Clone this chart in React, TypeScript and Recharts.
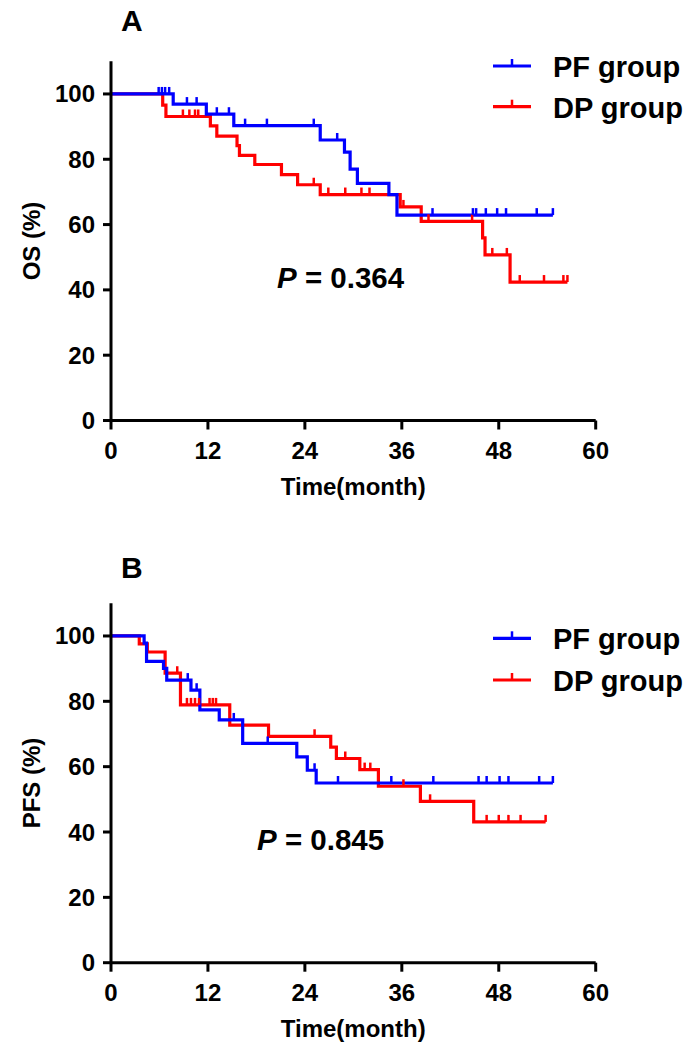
import React from "react";
import { LineChart, Line, XAxis, YAxis } from "recharts";

// Kaplan-Meier steps as [month, survival %]; censor marks as months
const osPfSteps = [
  [0, 100], [7.7, 96.9], [11.8, 93.8], [15.2, 90.3], [25.9, 85.9], [28.9, 82.2],
  [29.6, 77.0], [30.5, 72.6], [34.4, 69.2], [35.4, 62.9],
];
const osPfCensor = [
  5.9, 6.3, 6.7, 7.2, 9.4, 10.6, 13.1, 14.6, 16.6, 19.3, 25.1, 28.0, 39.8, 44.8,
  45.2, 46.4, 47.8, 48.9, 52.7, 54.7,
];
const osDpSteps = [
  [0, 100], [6.4, 96.6], [6.8, 93.1], [12.3, 90.2], [13.1, 87.1], [15.6, 84.2],
  [15.9, 81.2], [17.8, 78.4], [21.1, 75.3], [23.1, 72.2], [25.9, 69.2], [35.8, 65.4],
  [38.4, 61.0], [46.0, 55.9], [46.3, 50.7], [49.4, 42.4],
];
const osDpCensor = [
  8.9, 9.7, 10.4, 10.8, 25.1, 26.9, 29.0, 31.0, 32.0, 36.2, 39.3, 44.7, 47.2, 49.0,
  50.6, 53.6, 56.0, 56.5,
];

const pfsPfSteps = [
  [0, 100], [4.1, 97.8], [4.4, 92.2], [6.5, 90.1], [6.9, 86.5], [9.9, 83.4],
  [11.0, 77.4], [13.4, 74.3], [16.3, 67.1], [23.0, 63.0], [24.3, 58.9], [25.4, 55.0],
];
const pfsPfCensor = [
  9.5, 10.6, 15.2, 19.4, 25.2, 28.1, 34.7, 39.9, 45.5, 46.5, 48.1, 49.2, 53.0, 54.7,
];
const pfsDpSteps = [
  [0, 100], [3.5, 97.6], [4.5, 95.1], [6.7, 88.6], [8.6, 78.9], [14.7, 72.7],
  [19.5, 69.3], [27.2, 66.0], [27.9, 62.5], [30.8, 59.1], [33.1, 54.0], [38.3, 49.4],
  [44.9, 43.1],
];
const pfsDpCensor = [
  8.2, 9.4, 9.9, 10.4, 10.9, 12.2, 12.6, 13.0, 25.2, 29.0, 31.4, 32.1, 36.2, 39.5,
  46.5, 48.0, 49.2, 50.7, 53.8,
];

const monthTicks = [0, 12, 24, 36, 48, 60];
const pctTicks = [0, 20, 40, 60, 80, 100];

const BLUE = "#0000FF";
const RED = "#FF0000";
const FONT = '"Liberation Sans", Arial, sans-serif';

type Pt = { t: number; s: number; c: boolean };

// merge the step points with censor marks (a censor sits on the current level)
function buildCurve(steps: number[][], censor: number[]): Pt[] {
  const levelAt = (t: number) => {
    let s = steps[0][1];
    for (const [st, sv] of steps) if (st <= t) s = sv;
    return s;
  };
  const pts: Pt[] = steps.map(([t, s]) => ({ t, s, c: false }));
  censor.forEach((t) => pts.push({ t, s: levelAt(t), c: true }));
  return pts.sort((a, b) => a.t - b.t || (a.c ? 1 : -1));
}

const censorDot = (color: string) => (props: any) => {
  const { cx, cy, payload, index } = props;
  if (!payload || !payload.c || cx == null) return <g key={`n${index}`} />;
  return (
    <line key={`c${index}`} x1={cx} x2={cx} y1={cy} y2={cy - 7} stroke={color} strokeWidth={2.5} />
  );
};

const tickStyle = { fill: "#000", fontSize: 24, fontWeight: 700, fontFamily: FONT };

function Panel({ top, height, bottom, pf, dp }: any) {
  return (
    <div style={{ position: "absolute", left: 0, top }}>
      <LineChart width={698} height={height} margin={{ top: 61.3, right: 102.3, bottom, left: 51 }}>
        <XAxis
          type="number"
          dataKey="t"
          domain={[0, 60]}
          ticks={monthTicks}
          height={30}
          axisLine={{ stroke: "#000", strokeWidth: 3 }}
          tickLine={{ stroke: "#000", strokeWidth: 3 }}
          tickSize={9}
          tickMargin={12}
          tick={tickStyle}
        />
        <YAxis
          type="number"
          dataKey="s"
          domain={[0, 110]}
          ticks={pctTicks}
          width={60}
          axisLine={{ stroke: "#000", strokeWidth: 3 }}
          tickLine={{ stroke: "#000", strokeWidth: 3 }}
          tickSize={8}
          tickMargin={8}
          tick={tickStyle}
        />
        <Line
          data={dp}
          dataKey="s"
          type="stepAfter"
          stroke={RED}
          strokeWidth={3.2}
          dot={censorDot(RED)}
          activeDot={false}
          isAnimationActive={false}
        />
        <Line
          data={pf}
          dataKey="s"
          type="stepAfter"
          stroke={BLUE}
          strokeWidth={3.2}
          dot={censorDot(BLUE)}
          activeDot={false}
          isAnimationActive={false}
        />
      </LineChart>
    </div>
  );
}

function LegendRow({ y, color, text }: { y: number; color: string; text: string }) {
  return (
    <g>
      <line x1={493} x2={531} y1={y} y2={y} stroke={color} strokeWidth={3.2} />
      <line x1={512} x2={512} y1={y} y2={y - 7} stroke={color} strokeWidth={2.5} />
      <text x={553} y={y + 11} fontSize={29} fontWeight={700} fontFamily={FONT} fill="#000">
        {text}
      </text>
    </g>
  );
}

export default function App() {
  const osPf = buildCurve(osPfSteps, osPfCensor);
  const osDp = buildCurve(osDpSteps, osDpCensor);
  const pfsPf = buildCurve(pfsPfSteps, pfsPfCensor);
  const pfsDp = buildCurve(pfsDpSteps, pfsDpCensor);

  const bold = { fontWeight: 700, fontFamily: FONT, fill: "#000" } as const;

  return (
    <div style={{ position: "relative", width: 698, height: 1058, margin: -8, background: "#fff", overflow: "hidden" }}>
      <Panel top={0} height={529} bottom={78.5} pf={osPf} dp={osDp} />
      <Panel top={542} height={516} bottom={65.3} pf={pfsPf} dp={pfsDp} />
      <svg width={698} height={1058} style={{ position: "absolute", left: 0, top: 0, pointerEvents: "none" }}>
        <text x={121} y={31} fontSize={30} {...bold}>A</text>
        <text x={121} y={578} fontSize={30} {...bold}>B</text>

        <text transform="translate(39.6,241) rotate(-90)" textAnchor="middle" fontSize={24} {...bold}>OS (%)</text>
        <text transform="translate(39.6,783) rotate(-90)" textAnchor="middle" fontSize={24} {...bold}>PFS (%)</text>

        <text x={353.2} y={494.7} textAnchor="middle" fontSize={24} {...bold}>Time(month)</text>
        <text x={353.2} y={1036.7} textAnchor="middle" fontSize={24} {...bold}>Time(month)</text>

        <text x={277} y={288.3} fontSize={29.5} {...bold}>
          <tspan fontStyle="italic">P</tspan> = 0.364
        </text>
        <text x={257} y={850} fontSize={29.5} {...bold}>
          <tspan fontStyle="italic">P</tspan> = 0.845
        </text>

        <LegendRow y={66} color={BLUE} text="PF group" />
        <LegendRow y={106.7} color={RED} text="DP group" />
        <LegendRow y={638.3} color={BLUE} text="PF group" />
        <LegendRow y={680} color={RED} text="DP group" />
      </svg>
    </div>
  );
}
